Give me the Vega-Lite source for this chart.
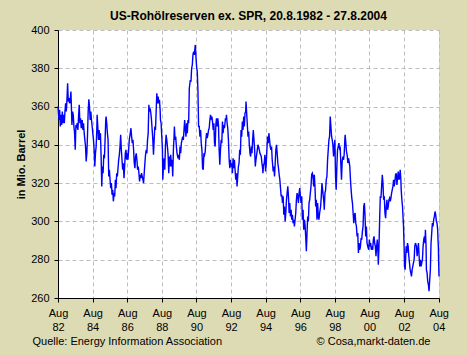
{
"$schema": "https://vega.github.io/schema/vega-lite/v6.json",
"width": 381, "height": 268,
"autosize": {"type": "none"},
"padding": {"left": 58, "top": 30, "right": 28, "bottom": 57},
"background": "#DDDBB4",
"title": {"text": "US-Rohölreserven ex. SPR,  20.8.1982 - 27.8.2004", "frame": "group", "anchor": "middle", "baseline": "alphabetic", "offset": -8, "font": "Liberation Sans", "fontSize": 12, "fontWeight": "bold", "color": "#000000"},
"config": {
  "view": {"stroke": null, "fill": "#FFFFFF"},
  "axis": {"labelFont": "Liberation Sans", "titleFont": "Liberation Sans", "labelColor": "#000000", "titleColor": "#000000", "labelFontSize": 11, "titleFontSize": 11, "domainColor": "#000000", "tickColor": "#000000", "tickSize": 4, "gridColor": "#BDBDBD", "gridDash": [4, 3], "gridWidth": 1}
},
"data": {"values": [
{"w":0,"v":360.0},{"w":1,"v":357.4},{"w":3,"v":353.0},{"w":5,"v":358.3},{"w":7,"v":349.6},{"w":9,"v":355.7},{"w":11,"v":350.4},{"w":13,"v":357.4},{"w":15,"v":351.3},{"w":17,"v":355.7},{"w":19,"v":351.3},{"w":21,"v":357.4},{"w":23,"v":361.7},{"w":25,"v":357.4},{"w":27,"v":363.5},{"w":29,"v":372.2},{"w":31,"v":362.6},{"w":33,"v":364.4},{"w":35,"v":361.7},{"w":37,"v":363.5},{"w":39,"v":367.8},{"w":41,"v":356.5},{"w":42,"v":350.4},{"w":44,"v":357.4},{"w":46,"v":355.7},{"w":48,"v":349.6},{"w":50,"v":346.1},{"w":52,"v":337.4},{"w":54,"v":350.4},{"w":56,"v":349.6},{"w":58,"v":351.3},{"w":60,"v":347.8},{"w":62,"v":354.8},{"w":64,"v":360.9},{"w":66,"v":351.3},{"w":68,"v":353.9},{"w":70,"v":348.7},
{"w":73,"v":353.0},{"w":75,"v":347.8},{"w":77,"v":351.3},{"w":79,"v":346.1},{"w":81,"v":342.6},{"w":83,"v":339.1},{"w":85,"v":331.3},{"w":87,"v":335.6},{"w":89,"v":345.2},{"w":91,"v":357.4},{"w":93,"v":363.8},{"w":95,"v":360.0},{"w":97,"v":353.0},{"w":99,"v":357.4},{"w":101,"v":353.0},{"w":103,"v":349.6},{"w":105,"v":346.1},{"w":107,"v":342.6},{"w":109,"v":337.4},{"w":111,"v":328.7},{"w":113,"v":335.6},{"w":115,"v":339.1},{"w":117,"v":347.8},{"w":118,"v":355.7},{"w":120,"v":349.6},{"w":122,"v":342.6},{"w":124,"v":347.8},{"w":126,"v":342.6},{"w":128,"v":346.1},{"w":130,"v":333.9},{"w":132,"v":318.3},{"w":134,"v":328.7},{"w":136,"v":325.2},{"w":138,"v":334.8},{"w":140,"v":333.0},{"w":142,"v":342.6},{"w":144,"v":353.0},{"w":145,"v":354.8},{"w":147,"v":351.3},{"w":149,"v":346.1},{"w":151,"v":342.6},{"w":153,"v":323.5},{"w":155,"v":327.0},{"w":157,"v":321.8},{"w":159,"v":317.4},{"w":161,"v":320.0},{"w":163,"v":313.9},{"w":165,"v":316.5},{"w":167,"v":310.5},{"w":169,"v":314.8},{"w":171,"v":313.1},{"w":173,"v":321.8},{"w":175,"v":317.4},{"w":177,"v":325.2},{"w":179,"v":323.5},{"w":181,"v":327.8},{"w":183,"v":332.2},{"w":185,"v":334.8},{"w":187,"v":339.1},{"w":189,"v":345.2},{"w":191,"v":337.4},{"w":193,"v":332.2},{"w":195,"v":327.0},{"w":197,"v":330.4},{"w":199,"v":322.6},{"w":201,"v":328.7},{"w":203,"v":335.6},{"w":205,"v":337.4},{"w":207,"v":332.2},{"w":209,"v":335.6},{"w":211,"v":332.2},{"w":213,"v":337.4},{"w":215,"v":342.6},
{"w":218,"v":346.1},{"w":220,"v":348.7},{"w":222,"v":344.3},{"w":224,"v":340.9},{"w":226,"v":342.6},{"w":228,"v":337.4},{"w":230,"v":330.4},{"w":232,"v":327.8},{"w":234,"v":333.9},{"w":236,"v":335.6},{"w":238,"v":332.2},{"w":240,"v":327.0},{"w":242,"v":328.7},{"w":244,"v":325.2},{"w":246,"v":320.9},{"w":248,"v":324.4},{"w":250,"v":322.6},{"w":252,"v":325.2},{"w":254,"v":323.5},{"w":256,"v":321.8},{"w":258,"v":320.0},{"w":260,"v":325.2},{"w":262,"v":330.4},{"w":264,"v":334.8},{"w":266,"v":337.4},{"w":268,"v":335.6},{"w":270,"v":342.6},{"w":272,"v":346.1},{"w":274,"v":360.9},{"w":276,"v":357.4},{"w":278,"v":359.1},{"w":280,"v":356.5},{"w":282,"v":353.0},{"w":284,"v":347.8},{"w":286,"v":342.6},{"w":288,"v":334.8},{"w":290,"v":342.6},{"w":292,"v":349.6},{"w":294,"v":347.8},{"w":296,"v":357.4},{"w":298,"v":367.0},{"w":300,"v":361.7},{"w":302,"v":365.2},{"w":304,"v":361.7},{"w":306,"v":363.5},{"w":308,"v":358.3},{"w":309,"v":353.0},{"w":311,"v":351.3},{"w":313,"v":344.3},{"w":315,"v":337.4},{"w":316,"v":321.8},{"w":318,"v":328.7},{"w":320,"v":333.0},{"w":322,"v":327.0},{"w":324,"v":339.1},{"w":326,"v":345.2},{"w":328,"v":342.6},{"w":330,"v":339.1},{"w":332,"v":334.8},{"w":334,"v":325.2},{"w":336,"v":333.9},{"w":338,"v":328.7},{"w":340,"v":334.8},{"w":342,"v":328.7},{"w":344,"v":332.2},{"w":346,"v":323.5},{"w":348,"v":337.4},{"w":350,"v":344.3},{"w":351,"v":349.6},{"w":353,"v":342.6},{"w":355,"v":344.3},{"w":357,"v":339.1},{"w":359,"v":335.6},
{"w":362,"v":333.0},{"w":364,"v":334.8},{"w":366,"v":332.2},{"w":368,"v":339.1},{"w":370,"v":335.6},{"w":372,"v":340.9},{"w":374,"v":342.6},{"w":376,"v":344.3},{"w":378,"v":342.6},{"w":380,"v":347.8},{"w":382,"v":353.0},{"w":384,"v":347.8},{"w":386,"v":344.3},{"w":388,"v":351.3},{"w":390,"v":346.1},{"w":392,"v":353.0},{"w":394,"v":351.3},{"w":396,"v":369.6},{"w":399,"v":373.9},{"w":401,"v":373.0},{"w":403,"v":380.0},{"w":405,"v":381.7},{"w":407,"v":387.0},{"w":409,"v":388.7},{"w":411,"v":387.0},{"w":413,"v":390.4},{"w":414,"v":392.2},{"w":416,"v":386.1},{"w":418,"v":380.9},{"w":420,"v":378.3},{"w":422,"v":368.7},{"w":424,"v":349.6},{"w":426,"v":349.6},{"w":428,"v":344.3},{"w":430,"v":347.8},{"w":432,"v":340.9},{"w":434,"v":337.4},{"w":436,"v":327.8},{"w":438,"v":327.0},{"w":440,"v":335.6},{"w":442,"v":334.8},{"w":444,"v":336.5},{"w":446,"v":342.6},{"w":448,"v":346.1},{"w":450,"v":343.5},{"w":452,"v":345.2},{"w":454,"v":347.8},{"w":456,"v":348.7},{"w":458,"v":353.0},{"w":460,"v":355.7},{"w":462,"v":353.9},{"w":464,"v":354.8},{"w":466,"v":352.2},{"w":468,"v":347.8},{"w":470,"v":351.3},{"w":472,"v":340.9},{"w":474,"v":339.1},{"w":476,"v":350.4},{"w":478,"v":353.9},{"w":480,"v":349.6},{"w":482,"v":353.9},{"w":484,"v":350.4},{"w":486,"v":337.4},{"w":488,"v":329.6},{"w":490,"v":337.4},{"w":492,"v":342.6},{"w":494,"v":340.9},{"w":496,"v":352.2},{"w":498,"v":346.1},{"w":500,"v":350.4},{"w":502,"v":348.7},
{"w":505,"v":353.9},{"w":507,"v":353.0},{"w":508,"v":355.7},{"w":510,"v":351.3},{"w":512,"v":348.7},{"w":514,"v":342.6},{"w":516,"v":333.0},{"w":518,"v":327.8},{"w":520,"v":332.2},{"w":522,"v":328.7},{"w":524,"v":330.4},{"w":526,"v":325.2},{"w":528,"v":333.0},{"w":530,"v":327.8},{"w":532,"v":332.2},{"w":534,"v":327.0},{"w":536,"v":321.8},{"w":538,"v":325.2},{"w":540,"v":318.3},{"w":542,"v":323.5},{"w":544,"v":328.7},{"w":546,"v":330.4},{"w":548,"v":337.4},{"w":550,"v":334.8},{"w":552,"v":347.8},{"w":554,"v":344.3},{"w":556,"v":352.2},{"w":558,"v":347.8},{"w":560,"v":354.8},{"w":562,"v":349.6},{"w":564,"v":356.5},{"w":566,"v":357.4},{"w":567,"v":362.6},{"w":569,"v":356.5},{"w":571,"v":350.4},{"w":573,"v":344.3},{"w":575,"v":347.0},{"w":577,"v":340.0},{"w":579,"v":335.6},{"w":581,"v":333.9},{"w":583,"v":339.1},{"w":585,"v":335.6},{"w":587,"v":342.6},{"w":589,"v":347.8},{"w":591,"v":342.6},{"w":593,"v":337.4},{"w":595,"v":328.7},{"w":597,"v":332.2},{"w":599,"v":334.8},{"w":601,"v":337.4},{"w":603,"v":340.0},{"w":605,"v":339.1},{"w":607,"v":337.4},{"w":609,"v":335.6},{"w":611,"v":334.8},{"w":613,"v":333.9},{"w":615,"v":330.4},{"w":617,"v":327.8},{"w":618,"v":325.2},{"w":620,"v":329.6},{"w":622,"v":330.4},{"w":624,"v":334.8},{"w":626,"v":326.1},{"w":628,"v":330.4},{"w":630,"v":337.4},{"w":632,"v":344.3},{"w":634,"v":340.9},{"w":636,"v":346.1},{"w":638,"v":342.6},{"w":640,"v":339.1},{"w":642,"v":337.4},{"w":644,"v":339.1},{"w":646,"v":332.2},
{"w":649,"v":326.1},{"w":651,"v":328.7},{"w":653,"v":323.5},{"w":655,"v":330.4},{"w":657,"v":337.4},{"w":659,"v":340.0},{"w":661,"v":335.6},{"w":663,"v":330.4},{"w":665,"v":327.8},{"w":667,"v":324.4},{"w":669,"v":321.8},{"w":671,"v":317.4},{"w":673,"v":313.1},{"w":675,"v":313.9},{"w":677,"v":309.6},{"w":679,"v":313.1},{"w":681,"v":303.5},{"w":683,"v":307.8},{"w":685,"v":300.0},{"w":687,"v":304.4},{"w":689,"v":311.3},{"w":691,"v":314.8},{"w":693,"v":318.3},{"w":695,"v":313.1},{"w":697,"v":304.4},{"w":699,"v":309.6},{"w":701,"v":302.6},{"w":703,"v":306.1},{"w":705,"v":300.9},{"w":707,"v":303.5},{"w":709,"v":299.1},{"w":711,"v":300.9},{"w":713,"v":297.4},{"w":715,"v":300.9},{"w":717,"v":304.4},{"w":719,"v":311.3},{"w":721,"v":314.8},{"w":723,"v":313.1},{"w":725,"v":309.6},{"w":727,"v":314.8},{"w":729,"v":317.4},{"w":731,"v":313.1},{"w":733,"v":309.6},{"w":735,"v":313.1},{"w":737,"v":300.9},{"w":739,"v":306.1},{"w":741,"v":295.7},{"w":743,"v":300.9},{"w":745,"v":298.2},{"w":747,"v":292.2},{"w":749,"v":284.4},{"w":751,"v":293.9},{"w":753,"v":302.6},{"w":755,"v":300.0},{"w":757,"v":309.6},{"w":759,"v":311.3},{"w":761,"v":314.8},{"w":763,"v":318.3},{"w":765,"v":324.5},{"w":767,"v":325.2},
{"w":769,"v":323.5},{"w":771,"v":318.3},{"w":773,"v":324.4},{"w":775,"v":318.3},{"w":777,"v":307.8},{"w":779,"v":311.3},{"w":781,"v":300.9},{"w":783,"v":309.6},{"w":785,"v":302.6},{"w":787,"v":300.9},{"w":789,"v":304.4},{"w":792,"v":307.8},{"w":794,"v":313.1},{"w":796,"v":320.0},{"w":798,"v":316.5},{"w":800,"v":313.1},{"w":802,"v":309.6},{"w":803,"v":306.1},{"w":805,"v":314.8},{"w":807,"v":316.5},{"w":809,"v":321.8},{"w":811,"v":323.5},{"w":813,"v":332.2},{"w":815,"v":337.4},{"w":817,"v":342.6},{"w":819,"v":344.4},{"w":821,"v":354.8},{"w":823,"v":349.6},{"w":825,"v":344.4},{"w":827,"v":342.6},{"w":829,"v":340.0},{"w":831,"v":333.9},{"w":833,"v":339.1},{"w":835,"v":342.6},{"w":837,"v":323.5},{"w":839,"v":316.5},{"w":841,"v":328.7},{"w":843,"v":337.4},{"w":845,"v":339.1},{"w":847,"v":340.9},{"w":849,"v":338.3},{"w":851,"v":339.1},{"w":853,"v":329.6},{"w":855,"v":321.8},{"w":857,"v":331.3},{"w":859,"v":333.9},{"w":861,"v":332.2},{"w":863,"v":334.8},{"w":865,"v":342.6},{"w":866,"v":345.2},{"w":868,"v":340.9},{"w":870,"v":336.5},{"w":872,"v":334.8},{"w":874,"v":330.5},{"w":876,"v":333.0},{"w":878,"v":331.3},{"w":880,"v":328.7},{"w":882,"v":321.8},{"w":884,"v":316.5},{"w":886,"v":312.2},{"w":888,"v":309.6},{"w":890,"v":304.4},{"w":892,"v":299.1},{"w":894,"v":303.5},{"w":896,"v":304.4},{"w":898,"v":299.1},{"w":900,"v":297.4},{"w":902,"v":292.2},{"w":904,"v":293.9},{"w":906,"v":283.5},{"w":908,"v":288.7},{"w":910,"v":285.2},{"w":912,"v":287.0},{"w":914,"v":291.3},{"w":916,"v":290.5},{"w":918,"v":294.8},{"w":920,"v":297.4},{"w":922,"v":307.8},{"w":924,"v":309.6},{"w":926,"v":302.6},{"w":928,"v":292.2},{"w":930,"v":297.4},{"w":932,"v":288.7},{"w":934,"v":287.0},
{"w":937,"v":285.2},{"w":939,"v":290.5},{"w":941,"v":287.0},{"w":943,"v":288.7},{"w":945,"v":285.2},{"w":947,"v":287.0},{"w":949,"v":285.2},{"w":951,"v":290.5},{"w":953,"v":292.2},{"w":955,"v":288.7},{"w":957,"v":287.0},{"w":959,"v":281.8},{"w":961,"v":287.0},{"w":963,"v":290.5},{"w":965,"v":283.5},{"w":966,"v":277.4},{"w":968,"v":287.0},{"w":970,"v":300.9},{"w":972,"v":313.1},{"w":974,"v":312.2},{"w":976,"v":318.3},{"w":978,"v":324.4},{"w":980,"v":320.0},{"w":982,"v":311.3},{"w":984,"v":313.1},{"w":986,"v":304.4},{"w":988,"v":301.7},{"w":990,"v":307.8},{"w":992,"v":311.3},{"w":994,"v":306.1},{"w":996,"v":307.8},{"w":998,"v":311.3},{"w":1000,"v":312.2},{"w":1002,"v":310.5},{"w":1004,"v":312.2},{"w":1006,"v":314.8},{"w":1008,"v":316.5},{"w":1010,"v":318.3},{"w":1012,"v":321.8},{"w":1014,"v":318.3},{"w":1016,"v":320.9},{"w":1018,"v":324.4},{"w":1020,"v":325.2},{"w":1022,"v":319.1},{"w":1024,"v":322.6},{"w":1026,"v":326.1},{"w":1028,"v":321.8},{"w":1030,"v":322.6},{"w":1032,"v":327.0},{"w":1034,"v":321.8},{"w":1035,"v":316.5},{"w":1037,"v":311.3},{"w":1039,"v":307.8},{"w":1041,"v":300.9},{"w":1042,"v":297.4},{"w":1044,"v":285.2},{"w":1045,"v":276.5},{"w":1047,"v":274.8},{"w":1049,"v":283.5},{"w":1050,"v":287.0},{"w":1052,"v":283.5},{"w":1054,"v":288.7},{"w":1056,"v":287.0},{"w":1058,"v":281.8},{"w":1060,"v":278.3},{"w":1062,"v":274.8},{"w":1064,"v":273.1},{"w":1066,"v":271.3},{"w":1068,"v":274.8},{"w":1070,"v":276.5},{"w":1072,"v":278.3},{"w":1074,"v":280.0},{"w":1076,"v":287.0},{"w":1078,"v":288.7},
{"w":1081,"v":287.0},{"w":1083,"v":281.8},{"w":1085,"v":285.2},{"w":1087,"v":288.7},{"w":1089,"v":281.8},{"w":1091,"v":276.5},{"w":1093,"v":280.0},{"w":1095,"v":276.5},{"w":1097,"v":278.3},{"w":1099,"v":280.0},{"w":1101,"v":287.0},{"w":1103,"v":290.5},{"w":1105,"v":292.2},{"w":1107,"v":288.7},{"w":1108,"v":295.7},{"w":1110,"v":287.0},{"w":1111,"v":274.8},{"w":1113,"v":273.1},{"w":1115,"v":268.7},{"w":1117,"v":267.0},{"w":1119,"v":263.5},{"w":1121,"v":269.6},{"w":1123,"v":274.8},{"w":1125,"v":288.7},{"w":1127,"v":293.9},{"w":1129,"v":299.1},{"w":1131,"v":297.4},{"w":1133,"v":300.9},{"w":1135,"v":302.6},{"w":1137,"v":305.2},{"w":1139,"v":303.5},{"w":1141,"v":300.0},{"w":1143,"v":299.1},{"w":1145,"v":295.7},{"w":1146,"v":290.5},{"w":1147,"v":287.0},{"w":1148,"v":278.3},{"w":1149,"v":271.3}
]},
"encoding": {
  "y": {"field": "v", "type": "quantitative", "scale": {"domain": [260, 400], "nice": false, "zero": false},
    "axis": {"values": [260, 280, 300, 320, 340, 360, 380, 400], "grid": true, "labelPadding": 5, "labelOverlap": false, "labelFlush": false,
      "title": "in Mio. Barrel", "titleFontWeight": "bold", "titleX": -34, "titleBaseline": "alphabetic"}}
},
"layer": [
  {
    "mark": {"type": "line", "color": "#0000FF", "strokeWidth": 1.4, "interpolate": "linear"},
    "encoding": {
      "x": {"field": "w", "type": "quantitative", "scale": {"domain": [0, 1149], "nice": false, "zero": false},
        "axis": {"values": [0, 104.43, 208.71, 313.14, 417.43, 521.86, 626.14, 730.57, 834.86, 939.29, 1043.57, 1148],
          "labelExpr": "['Aug', ['82','84','86','88','90','92','94','96','98','00','02','04'][round(datum.value/104.36)]]",
          "labelLineHeight": 14, "labelPadding": 5, "labelFlush": false, "labelOverlap": false, "grid": true,
          "title": "Quelle: Energy Information Association", "titleAnchor": "start", "titleAlign": "left", "titleX": -26, "titleY": 43, "titleBaseline": "middle", "titleFontWeight": "normal"}}
    }
  },
  {
    "mark": {"type": "line", "opacity": 0},
    "encoding": {
      "x": {"field": "w", "type": "quantitative", "scale": {"domain": [0, 1149], "nice": false, "zero": false},
        "axis": {"orient": "bottom", "labels": false, "ticks": false, "domain": false, "grid": false,
          "title": "© Cosa,markt-daten.de", "titleAnchor": "end", "titleAlign": "right", "titleX": 372, "titleY": 43, "titleBaseline": "middle", "titleFontWeight": "normal"}}
    }
  }
],
"resolve": {"axis": {"x": "independent"}}
}
